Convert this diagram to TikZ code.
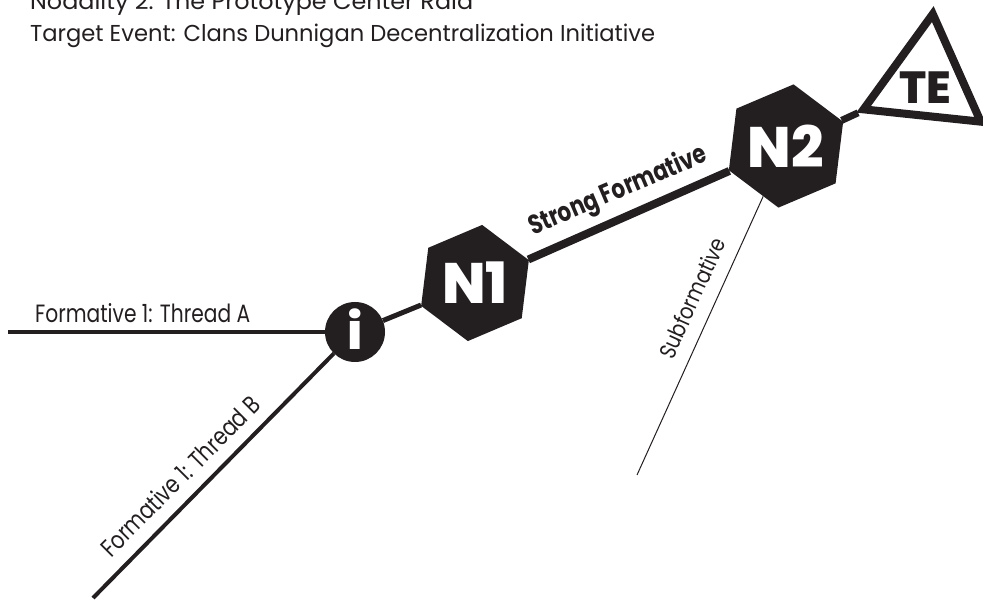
\documentclass[tikz,border=0pt]{standalone}
\usepackage{fontspec}
\setmainfont{Poppins}
\IfFontExistsTF{Poppins ExtraBold}
  {\newfontfamily\heavyfont{Poppins ExtraBold}}
  {\newfontfamily\heavyfont{Poppins}[UprightFeatures={FakeBold=1.5}]}
\usepackage{graphicx}
\usetikzlibrary{shapes.geometric}
\definecolor{ink}{RGB}{35,31,32}
\newlength\mlen
\tikzset{
  hexnode/.style={regular polygon, regular polygon sides=6, shape border rotate=23,
    minimum size=117pt, inner sep=0pt, fill=ink, text=white,
    font=\fontsize{57}{57}\heavyfont},
  infonode/.style={circle, minimum size=60pt, inner sep=0pt, fill=ink, text=white,
    font=\fontsize{50}{50}\heavyfont},
  tenode/.style={regular polygon, regular polygon sides=3, shape border rotate=-6,
    minimum size=136pt, inner sep=0pt, draw=ink, line width=8pt, line join=miter},
  tetext/.style={text=ink, inner sep=0pt, font=\fontsize{45}{45}\heavyfont},
  lbl/.style={text=ink, inner sep=0pt},
  thread/.style={draw=ink, line width=4pt},
  chain/.style={draw=ink, line width=#1},
  subline/.style={draw=ink, line width=1pt},
}
\begin{document}
\settowidth\mlen{\fontsize{23}{23}\selectfont Nodality 2: The Prototype Center Raid}%
\pgfmathsetmacro\tratio{443/\mlen}%
\settowidth\mlen{\fontsize{23}{23}\selectfont Target Event: Clans Dunnigan Decentralization Initiative}%
\pgfmathsetmacro\tratiob{625/\mlen}%
\settowidth\mlen{\fontsize{25}{25}\selectfont Formative 1: Thread A}%
\pgfmathsetmacro\aratio{215/\mlen}%
\settowidth\mlen{\fontsize{27}{27}\selectfont\bfseries Strong Formative}%
\pgfmathsetmacro\sratio{190/\mlen}%
\settowidth\mlen{\fontsize{23}{23}\selectfont Subformative}%
\pgfmathsetmacro\subratio{130/\mlen}%
\begin{tikzpicture}[x=1pt,y=-1pt]
\useasboundingbox (0,0) rectangle (983,601);

% title
\node[lbl, anchor=base west, font=\fontsize{23}{23}\selectfont] (title1) at (30,10)
  {\scalebox{\tratio}[1]{Nodality 2: The Prototype Center Raid}};
\node[lbl, anchor=base west, font=\fontsize{23}{23}\selectfont] (title2) at (30,42)
  {\scalebox{\tratiob}[1]{Target Event: Clans Dunnigan Decentralization Initiative}};

% nodes
\node[infonode] (info) at (355,332) {\raisebox{5pt}{i}};
\node[hexnode] (n1) at (475,283) {N1};
\node[hexnode] (n2) at (786,146) {N2};
\node[tenode] (te) at (925.7,81.7) {};
\node[tetext] (tetxt) at (925,88) {TE};

\coordinate (a0) at (8,332);
\coordinate (b0) at (93,598);
\coordinate (s0) at (637,475);

% connectors
\draw[thread] (a0) -- (info);
\draw[thread] (b0) -- (info);
\draw[chain=5pt] (info) -- (n1);
\draw[chain=8pt] (n1) -- (n2);
\draw[chain=7pt] (n2) -- (te);
\draw[subline] (s0) -- (n2);

% labels
\node[lbl, anchor=base west, font=\fontsize{25}{25}\selectfont] (labA) at (35,323)
  {\scalebox{\aratio}[1]{Formative 1: Thread A}};
\node[lbl, rotate=45, font=\fontsize{25}{25}\selectfont] (labB) at (180,476)
  {\scalebox{\aratio}[1]{Formative 1: Thread B}};
\node[lbl, anchor=base, rotate=23, font=\fontsize{27}{27}\selectfont\bfseries] (labS) at (621,198)
  {\scalebox{\sratio}[1]{Strong Formative}};
\node[lbl, rotate=65.8, font=\fontsize{23}{23}\selectfont] (labSub) at (692,298)
  {\scalebox{\subratio}[1]{Subformative}};
\end{tikzpicture}
\end{document}
